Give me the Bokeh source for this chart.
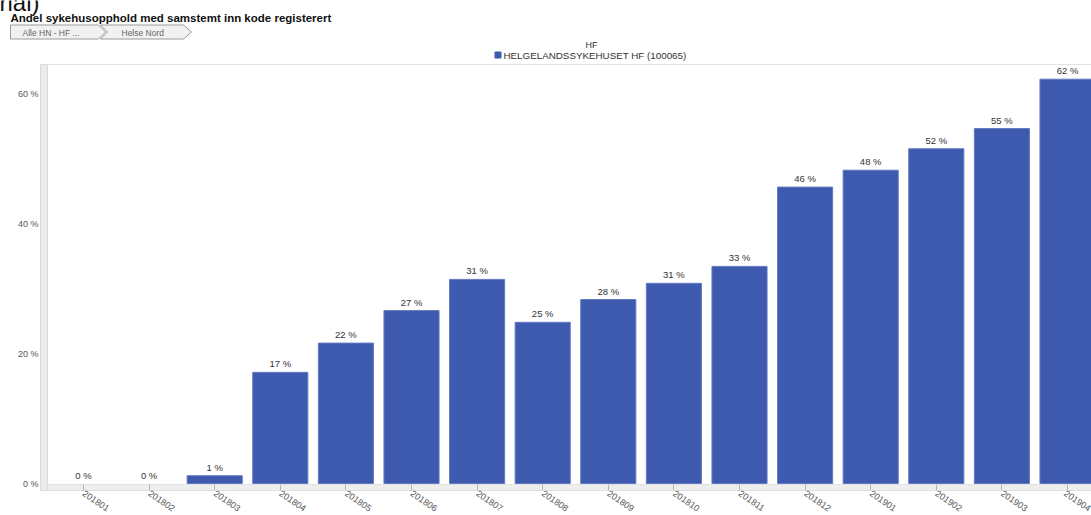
from bokeh.plotting import figure
from bokeh.models import Range1d, FixedTicker, BoxAnnotation, ColumnDataSource
from bokeh.core.properties import value
from bokeh.embed import file_html
from bokeh.resources import INLINE

# ---- data ----
months = ["201801", "201802", "201803", "201804", "201805", "201806", "201807", "201808",
          "201809", "201810", "201811", "201812", "201901", "201902", "201903", "201904"]
shares = [0.0, 0.0, 1.2, 17.1, 21.6, 26.6, 31.4, 24.8, 28.3, 30.8, 33.4, 45.6, 48.2, 51.5, 54.6, 62.2]
share_labels = ["0 %", "0 %", "1 %", "17 %", "22 %", "27 %", "31 %", "25 %", "28 %", "31 %",
                "33 %", "46 %", "48 %", "52 %", "55 %", "62 %"]
y_ticks = [0, 20, 40, 60]
y_tick_labels = ["0 %", "20 %", "40 %", "60 %"]
series_name = "HELGELANDSSYKEHUSET HF (100065)"
legend_title = "HF"
chart_title = "Andel sykehusopphold med samstemt inn kode registerert"
crumbs = ["Alle HN - HF ...", "Helse Nord"]
cut_heading = "rial)"

FONT = "Liberation Sans"
BAR = "#3d5aae"
W, H = 1091, 515

# page-pixel layout of the plotting area (frame covers the whole canvas)
PX_CAT, PX_PCT = 65.6, 6.5      # pixels per category / per percent
CAT0_PX, ZERO_PX = 83, 483      # page x of first category, page y of 0 %


def dx(px):
    return (px - CAT0_PX) / PX_CAT


def dy(py):
    return (ZERO_PX - py) / PX_PCT


X0, X1 = dx(0), dx(W)
Y0, Y1 = dy(H), dy(0)

x_idx = list(range(len(months)))
src = ColumnDataSource(dict(x=x_idx, top=shares, lab=share_labels,
                            edge=[0.0 if v == 0 else 1.0 for v in shares]))

p = figure(width=W, height=H, x_range=Range1d(X0, X1), y_range=Range1d(Y0, Y1),
           output_backend="svg", toolbar_location=None,
           min_border=0, min_border_left=0, min_border_right=0,
           min_border_top=0, min_border_bottom=0)
p.background_fill_color = "white"
p.border_fill_color = "white"
p.outline_line_color = None

# plot-area box, left scrollbar strip, bottom band
p.add_layout(BoxAnnotation(left=dx(40), right=X1, bottom=dy(490), top=dy(64),
                           fill_color="white", fill_alpha=1, line_color="#e3e3e3",
                           line_alpha=1, level="underlay"))
p.add_layout(BoxAnnotation(left=dx(40), right=dx(47), bottom=dy(490), top=dy(64),
                           fill_color="#ececec", fill_alpha=1, line_color="#dadada",
                           line_alpha=1, level="underlay"))
p.add_layout(BoxAnnotation(left=dx(47), right=X1, bottom=dy(490), top=dy(484),
                           fill_color="#eeeeee", fill_alpha=1, line_color="#e0e0e0",
                           line_alpha=1, level="underlay"))

# grid
p.xgrid.visible = False
p.ygrid.ticker = FixedTicker(ticks=y_ticks[1:])
p.ygrid.grid_line_color = "#dcdcdc"
p.ygrid.grid_line_dash = "4 4"
if "cross_bounds" in p.ygrid[0].properties():
    p.ygrid.cross_bounds = (dx(47), X1)

# bars and labels
p.vbar(x="x", top="top", bottom=0, width=0.84, source=src, fill_color=BAR,
       line_color="#6379c2", line_alpha="edge", line_width=1)
p.text(x="x", y="top", text="lab", source=src, text_font=value(FONT), text_font_size="9.5px",
       text_color="#333333", text_align="center", text_baseline="bottom", y_offset=-3)

# y axis (drawn inside the canvas at the plot-area edge)
p.yaxis.fixed_location = dx(40)
p.yaxis.ticker = FixedTicker(ticks=y_ticks)
p.yaxis.major_label_overrides = {t: l for t, l in zip(y_ticks, y_tick_labels)}
p.yaxis.axis_line_color = None
p.yaxis.major_tick_line_color = None
p.yaxis.major_tick_in = 0
p.yaxis.major_tick_out = 0
p.yaxis.minor_tick_line_color = None
p.yaxis.minor_tick_in = 0
p.yaxis.minor_tick_out = 0
p.yaxis.major_label_standoff = 2
p.yaxis.major_label_text_font = FONT
p.yaxis.major_label_text_font_size = "9px"
p.yaxis.major_label_text_color = "#555555"

# x axis
p.xaxis.fixed_location = dy(490)
p.xaxis.ticker = FixedTicker(ticks=x_idx)
p.xaxis.major_label_overrides = {i: m for i, m in zip(x_idx, months)}
p.xaxis.major_label_orientation = -0.6
p.xaxis.axis_line_color = None
p.xaxis.major_tick_in = 6
p.xaxis.major_tick_out = 0
p.xaxis.major_tick_line_color = "#b5b5b5"
p.xaxis.minor_tick_line_color = None
p.xaxis.minor_tick_in = 0
p.xaxis.minor_tick_out = 0
p.xaxis.major_label_standoff = 2
p.xaxis.major_label_text_font = FONT
p.xaxis.major_label_text_font_size = "9px"
p.xaxis.major_label_text_color = "#555555"

# ---- header: cut-off heading, title, breadcrumbs, legend ----
p.text(x=[dx(-1)], y=[dy(2)], text=[cut_heading], text_font=value(FONT),
       text_font_size="24px", text_color="#111111", text_baseline="alphabetic")
p.text(x=[dx(10)], y=[dy(17.5)], text=[chart_title], text_font=value(FONT),
       text_font_size="11.5px", text_font_style="bold", text_color="#111111",
       text_baseline="alphabetic")
p.patches(xs=[[dx(v) for v in [10, 98, 105, 98, 10]],
              [dx(v) for v in [100, 183, 191, 183, 100, 107]]],
          ys=[[dy(v) for v in [24.5, 24.5, 31.5, 38.5, 38.5]],
              [dy(v) for v in [24.5, 24.5, 31.5, 38.5, 38.5, 31.5]]],
          fill_color="#f1f1f1", line_color="#9a9a9a", line_width=1)
p.text(x=[dx(22), dx(121)], y=[dy(32), dy(32)], text=crumbs, text_font=value(FONT),
       text_font_size="8.5px", text_color="#666666", text_baseline="middle")
p.text(x=[dx(591)], y=[dy(44.5)], text=[legend_title], text_font=value(FONT),
       text_font_size="9px", text_color="#333333", text_baseline="middle",
       text_align="center")
p.scatter(x=[dx(497.5)], y=[dy(54.5)], marker="square", size=6, fill_color=BAR,
          line_color=BAR)
p.text(x=[dx(503)], y=[dy(55)], text=[series_name], text_font=value(FONT),
       text_font_size="9.8px", text_color="#333333", text_baseline="middle")

open("out.html", "w").write(file_html(p, INLINE))
